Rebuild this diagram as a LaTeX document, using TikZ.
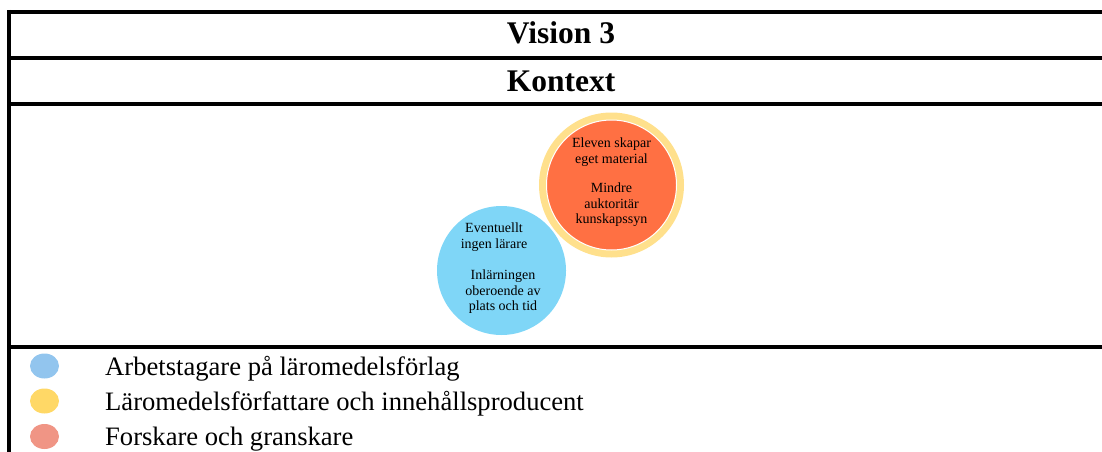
\documentclass[tikz,border=0pt]{standalone}
\usepackage{fontspec}
\setmainfont{Liberation Serif}
\usetikzlibrary{shapes.geometric}
\definecolor{cblue}{RGB}{127,214,247}
\definecolor{cring}{RGB}{255,224,140}
\definecolor{corange}{RGB}{255,112,67}
\definecolor{lblue}{RGB}{146,197,238}
\definecolor{lyellow}{RGB}{255,216,102}
\definecolor{lred}{RGB}{240,149,133}
\tikzset{
  rule/.style={line width=3.75pt},
  titletext/.style={font=\fontsize{31.5}{36}\selectfont\bfseries, anchor=base, inner sep=0pt},
  circtext/.style={font=\fontsize{14}{15.5}\selectfont, align=center, inner sep=0pt},
  legdot/.style={ellipse, minimum width=29pt, minimum height=25pt, inner sep=0pt},
  legtext/.style={font=\fontsize{26.6}{30}\selectfont, anchor=base west, inner sep=0pt}
}
\begin{document}
\begin{tikzpicture}[x=1pt,y=-1pt]
\useasboundingbox (0,0) rectangle (1102,452);
% table rules
\draw[rule] (7.1,11.75) -- (1102,11.75);
\draw[rule] (7.1,58) -- (1102,58);
\draw[rule] (7.1,104) -- (1102,104);
\draw[rule] (7.1,347) -- (1102,347);
\draw[rule] (9,9.9) -- (9,452);
% titles
\node[titletext] (title) at (561,44) {Vision 3};
\node[titletext] (ctx) at (561,91.5) {Kontext};
% circles
\fill[cring] (611.5,185) circle (72.5);
\filldraw[fill=corange, draw=white, line width=1pt] (611.5,185) circle (65);
\fill[cblue] (501.5,270.5) circle (64.5);
% circle texts
\node[circtext] (e1) at (494,237) {Eventuellt\\ingen lärare};
\node[circtext] (e2) at (503,292) {Inlärningen\\oberoende av\\plats och tid};
\node[circtext] (o1) at (611.5,152) {Eleven skapar\\eget material};
\node[circtext] (o2) at (611.5,205) {Mindre\\auktoritär\\kunskapssyn};
% legend
\node[legdot, fill=lblue] (d1) at (44.5,366) {};
\node[legdot, fill=lyellow] (d2) at (44.5,401) {};
\node[legdot, fill=lred] (d3) at (44.5,436.5) {};
\node[legtext] (t1) at (105,375) {Arbetstagare på läromedelsförlag};
\node[legtext] (t2) at (105,410.5) {Läromedelsförfattare och innehållsproducent};
\node[legtext] (t3) at (105,445.5) {Forskare och granskare};
\end{tikzpicture}
\end{document}
